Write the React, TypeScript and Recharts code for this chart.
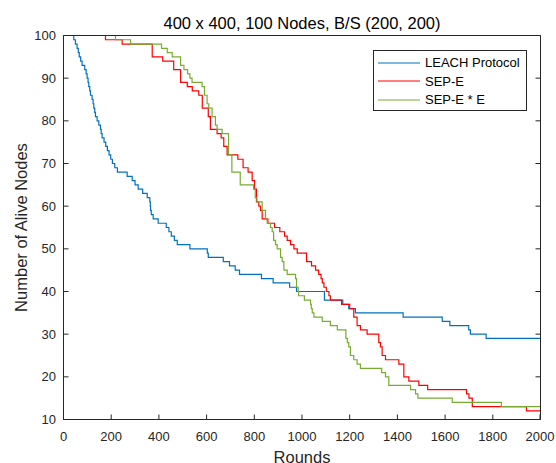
import React from "react";
import { LineChart, Line, XAxis, YAxis, Legend, Label } from "recharts";

// axis ticks
const roundTicks = [0, 200, 400, 600, 800, 1000, 1200, 1400, 1600, 1800, 2000];
const aliveTicks = [10, 20, 30, 40, 50, 60, 70, 80, 90, 100];

// LEACH Protocol (step points: round where the count changes, alive nodes from there)
const leachRounds = [
  0, 43, 50, 57, 62, 66, 72, 78, 89, 95, 99, 103, 106, 110, 113, 120, 124, 127, 131, 134,
  141, 148, 155, 158, 162, 170, 177, 184, 191, 198, 205, 215, 226, 267, 288, 300, 313, 332, 351, 362,
  364, 365, 368, 376, 397, 431, 442, 452, 465, 477, 530, 603, 607, 670, 696, 720, 738, 830, 879, 948,
  977, 1094, 1171, 1196, 1224, 1424, 1588, 1620, 1699, 1706, 1772, 2000,
];
const leachAlive = [
  100, 99, 98, 97, 96, 95, 94, 93, 92, 91, 90, 89, 88, 87, 86, 85, 84, 83, 82, 81,
  80, 79, 78, 77, 76, 75, 74, 73, 72, 71, 70, 69, 68, 67, 66, 65, 64, 63, 62, 61,
  60, 59, 58, 57, 56, 55, 54, 53, 52, 51, 50, 49, 48, 47, 46, 45, 44, 43, 42, 41,
  40, 38, 37, 36, 35, 34, 33, 32, 31, 30, 29, 29,
];

// SEP-E
const sepRounds = [
  0, 176, 246, 372, 416, 462, 491, 519, 540, 567, 582, 607, 616, 644, 661, 672, 686, 731, 753, 774,
  791, 801, 809, 819, 826, 833, 857, 885, 907, 927, 938, 952, 966, 980, 1019, 1040, 1057, 1070, 1080, 1085,
  1092, 1102, 1113, 1119, 1166, 1200, 1217, 1231, 1245, 1273, 1322, 1329, 1336, 1350, 1406, 1427, 1448, 1490, 1527, 1690,
  1700, 1714, 1941, 2000,
];
const sepAlive = [
  100, 99, 98, 95, 94, 92, 89, 88, 87, 86, 83, 81, 78, 77, 76, 74, 72, 71, 69, 68,
  66, 64, 61, 60, 59, 57, 56, 55, 54, 53, 52, 51, 50, 49, 47, 46, 45, 44, 43, 42,
  41, 40, 39, 38, 37, 36, 34, 32, 31, 30, 28, 27, 25, 24, 23, 20, 19, 18, 17, 16,
  15, 13, 12, 12,
];

// SEP-E * E
const sepeeRounds = [
  0, 218, 281, 411, 435, 456, 491, 505, 520, 530, 539, 581, 591, 602, 609, 623, 637, 644, 665, 692,
  706, 741, 797, 804, 811, 833, 847, 854, 868, 875, 881, 889, 896, 910, 917, 924, 938, 973, 977, 984,
  986, 1010, 1036, 1039, 1043, 1050, 1085, 1119, 1148, 1184, 1190, 1196, 1203, 1217, 1231, 1245, 1334, 1350, 1364, 1455,
  1476, 1486, 1630, 1836, 2000,
];
const sepeeAlive = [
  100, 99, 98, 97, 96, 95, 93, 92, 91, 90, 89, 88, 86, 84, 83, 81, 79, 78, 77, 72,
  68, 65, 64, 62, 61, 59, 57, 56, 55, 54, 52, 51, 50, 48, 47, 45, 44, 43, 41, 40,
  39, 38, 37, 36, 35, 34, 33, 32, 31, 29, 28, 27, 25, 24, 23, 22, 21, 20, 18, 17,
  16, 15, 14, 13, 13,
];

const toPoints = (rounds: number[], alive: number[]) =>
  rounds.map((round, i) => ({ round, alive: alive[i] }));

const series = [
  { name: "LEACH Protocol", color: "#0072BD", data: toPoints(leachRounds, leachAlive) },
  { name: "SEP-E", color: "#FF0000", data: toPoints(sepRounds, sepAlive) },
  { name: "SEP-E * E", color: "#77AC30", data: toPoints(sepeeRounds, sepeeAlive) },
];

const FONT = "'Liberation Sans', Arial, Helvetica, sans-serif";
const INK = "#262626";

// MATLAB style: tick marks point into the plot box
const BottomTick = ({ x, y, payload }: any) => (
  <g>
    <line x1={x} y1={y} x2={x} y2={y - 5} stroke={INK} />
    <text x={x} y={y + 21} textAnchor="middle" fontSize={13} fill={INK} fontFamily={FONT}>
      {payload.value}
    </text>
  </g>
);
const LeftTick = ({ x, y, payload }: any) => (
  <g>
    <line x1={x} y1={y} x2={x + 5} y2={y} stroke={INK} />
    <text x={x - 7.5} y={y + 4.5} textAnchor="end" fontSize={13} fill={INK} fontFamily={FONT}>
      {payload.value}
    </text>
  </g>
);
const TopTick = ({ x, y }: any) => <line x1={x} y1={y} x2={x} y2={y + 5} stroke={INK} />;
const RightTick = ({ x, y }: any) => <line x1={x} y1={y} x2={x - 5} y2={y} stroke={INK} />;

const LegendBox = () => (
  <div
    style={{
      boxSizing: "border-box",
      width: 154,
      height: 61,
      border: `1px solid ${INK}`,
      background: "#fff",
      paddingTop: 2.5,
      fontFamily: FONT,
      fontSize: 13,
      color: "#000",
    }}
  >
    {series.map((s) => (
      <div key={s.name} style={{ display: "flex", alignItems: "center", height: 18.5 }}>
        <svg width={42} height={4} style={{ marginLeft: 4, marginRight: 5 }}>
          <line x1={0} y1={2} x2={42} y2={2} stroke={s.color} strokeWidth={1.2} />
        </svg>
        <span style={{ whiteSpace: "nowrap" }}>{s.name}</span>
      </div>
    ))}
  </div>
);

export default function App() {
  return (
    <div>
      <style>{"body{margin:0;overflow:hidden}"}</style>
      <LineChart
        width={556}
        height={463}
        margin={{ top: 34.5, right: 14.5, left: 0, bottom: 0 }}
        style={{ background: "#fff" }}
      >
        <XAxis
          dataKey="round"
          type="number"
          domain={[0, 2000]}
          ticks={roundTicks}
          height={43.5}
          tickSize={0}
          tickMargin={0}
          tickLine={false}
          axisLine={{ stroke: INK }}
          tick={<BottomTick />}
          allowDataOverflow
        >
          <Label
            content={() => (
              <text x={302} y={462.5} textAnchor="middle" fontSize={16.5} fill={INK} fontFamily={FONT}>
                Rounds
              </text>
            )}
          />
        </XAxis>
        <XAxis
          xAxisId="top"
          orientation="top"
          type="number"
          domain={[0, 2000]}
          ticks={roundTicks}
          height={1}
          tickSize={0}
          tickMargin={0}
          tickLine={false}
          axisLine={{ stroke: INK }}
          tick={<TopTick />}
          allowDataOverflow
        >
          <Label
            content={() => (
              <text x={302} y={29} textAnchor="middle" fontSize={16.5} fill="#000" fontFamily={FONT}>
                400 x 400, 100 Nodes, B/S (200, 200)
              </text>
            )}
          />
        </XAxis>
        <YAxis
          type="number"
          domain={[10, 100]}
          ticks={aliveTicks}
          width={63.5}
          tickSize={0}
          tickMargin={0}
          tickLine={false}
          axisLine={{ stroke: INK }}
          tick={<LeftTick />}
          allowDataOverflow
        >
          <Label
            content={() => (
              <text
                x={27}
                y={227.5}
                textAnchor="middle"
                fontSize={16.5}
                fill={INK}
                fontFamily={FONT}
                transform="rotate(-90 27 227.5)"
              >
                Number of Alive Nodes
              </text>
            )}
          />
        </YAxis>
        <YAxis
          yAxisId="right"
          orientation="right"
          type="number"
          domain={[10, 100]}
          ticks={aliveTicks}
          width={1}
          tickSize={0}
          tickMargin={0}
          tickLine={false}
          axisLine={{ stroke: INK }}
          tick={<RightTick />}
          allowDataOverflow
        />
        {series.map((s) => (
          <Line
            key={s.name}
            data={s.data}
            dataKey="alive"
            name={s.name}
            type="stepAfter"
            stroke={s.color}
            strokeWidth={1.2}
            dot={false}
            activeDot={false}
            isAnimationActive={false}
          />
        ))}
        <Legend
          layout="vertical"
          align="center"
          verticalAlign="middle"
          wrapperStyle={{ left: 373, top: 50, width: 154, height: 61 }}
          content={() => <LegendBox />}
        />
      </LineChart>
    </div>
  );
}
